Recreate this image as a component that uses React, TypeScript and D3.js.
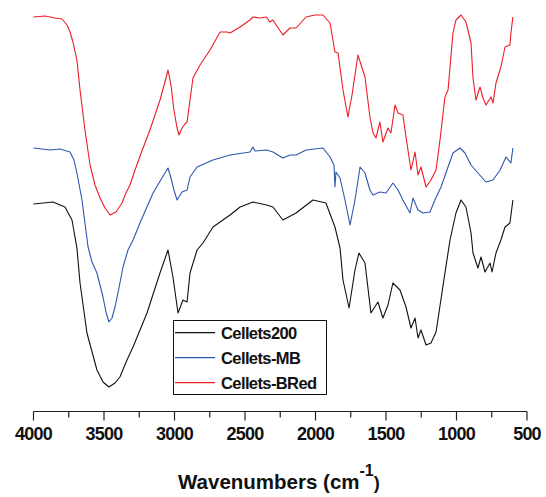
import React from "react";
import * as d3 from "d3";

const W = 546;
const H = 497;

// [wavenumber (cm-1), transmittance (a.u., stacked)]
const cellets200: [number, number][] = [
  [4000, 51.5], [3862, 52], [3777, 50.75], [3727, 47.5], [3692, 40.5], [3670, 31.75], [3621, 19.25],
  [3550, 10], [3507, 7], [3465, 5.75], [3422, 6.75], [3387, 8.25], [3337, 12.5], [3294, 15.75],
  [3195, 24.25], [3103, 34.25], [3046, 40], [3011, 33.25], [2975, 24.25], [2940, 27.5], [2911, 27],
  [2890, 34.25], [2840, 40], [2798, 41.75], [2727, 45.75], [2606, 48.75], [2535, 50.75], [2443, 52],
  [2347, 51.25], [2302, 50.75], [2231, 47.5], [2138, 49.25], [2018, 52.5], [1926, 51.75], [1862, 45.75],
  [1826, 40.5], [1805, 32.5], [1762, 25.5], [1720, 35], [1692, 39.25], [1649, 36.75], [1607, 24.25],
  [1557, 27], [1522, 23], [1486, 26.25], [1451, 31.75], [1401, 30], [1358, 25.75], [1323, 20.5],
  [1294, 23], [1273, 18], [1252, 20], [1216, 16.25], [1181, 16.75], [1145, 19.5], [1082, 34.25],
  [1046, 42.5], [1004, 49.25], [968, 52.5], [933, 50.75], [897, 44.25], [883, 39.25], [848, 35.5],
  [826, 38.25], [798, 34.5], [762, 36.75], [748, 34.5], [720, 39.25], [685, 42.5], [656, 45.75],
  [621, 46.75], [600, 52.5],
];

const celletsMB: [number, number][] = [
  [4000, 65.5], [3883, 65], [3812, 65.25], [3741, 64.5], [3713, 62.5], [3692, 59.25], [3656, 52.5],
  [3613, 40.75], [3585, 37], [3550, 34.25], [3507, 28.25], [3486, 24.5], [3465, 22], [3443, 23],
  [3422, 25.75], [3394, 30.5], [3365, 35.75], [3330, 40], [3294, 42.5], [3245, 46.75], [3152, 54.25],
  [3089, 58], [3046, 60.5], [3025, 58], [3004, 55], [2982, 52.5], [2947, 54.5], [2911, 55],
  [2890, 58.25], [2840, 60.75], [2727, 62.5], [2606, 63.75], [2465, 64.5], [2443, 65.75], [2429, 64.75],
  [2347, 65], [2302, 64.5], [2231, 63], [2181, 63.75], [2138, 63.75], [2067, 65], [1947, 65.5],
  [1897, 63.25], [1869, 61.25], [1862, 55.75], [1855, 59.5], [1826, 58], [1791, 52.5], [1755, 46.25],
  [1720, 52.5], [1684, 60.75], [1649, 59.25], [1614, 55], [1592, 53.75], [1543, 54.5], [1500, 54.25],
  [1451, 56.75], [1415, 55], [1380, 52.5], [1330, 49.25], [1309, 53], [1273, 50], [1238, 49.25],
  [1188, 49.5], [1153, 52.5], [1110, 55.75], [1075, 59.25], [1025, 64.25], [975, 65.5], [940, 64.25],
  [897, 61.25], [848, 59.25], [791, 57], [741, 57.5], [691, 60], [649, 63.25], [614, 61.75], [600, 65.5],
];

const celletsBRed: [number, number][] = [
  [4000, 98.25], [3918, 98.5], [3848, 98], [3798, 97.75], [3762, 96.25], [3741, 94.5], [3720, 92],
  [3692, 87.5], [3670, 80], [3635, 70], [3599, 61.25], [3564, 56.25], [3528, 53], [3493, 50.5],
  [3457, 48.75], [3415, 49.5], [3372, 51.75], [3351, 53.75], [3316, 56.25], [3280, 60], [3223, 65.5],
  [3174, 70], [3103, 77.5], [3060, 83], [3046, 85], [3025, 81.25], [3004, 75], [2982, 70.5],
  [2968, 68.75], [2947, 70.5], [2926, 71.5], [2911, 72], [2890, 77.5], [2869, 83], [2819, 86.25],
  [2748, 90], [2677, 94.5], [2628, 94.5], [2606, 94.25], [2535, 95.75], [2465, 97.5], [2443, 98.25],
  [2396, 98], [2347, 98.25], [2325, 97], [2302, 97.5], [2231, 93.75], [2181, 95.5], [2138, 95.5],
  [2067, 98.25], [2004, 98.75], [1947, 98.75], [1897, 96.75], [1862, 89.5], [1840, 89.25], [1805, 80],
  [1770, 73.25], [1741, 78.75], [1699, 88.75], [1649, 83.25], [1614, 73.25], [1592, 69.25], [1571, 68],
  [1543, 72], [1522, 67], [1486, 70.5], [1465, 69.25], [1436, 76.25], [1415, 74.25], [1380, 73.75],
  [1358, 68.25], [1323, 60], [1294, 64.5], [1273, 58.75], [1252, 60.75], [1216, 55.75], [1181, 57.5],
  [1145, 60], [1117, 67.5], [1082, 78.25], [1060, 80], [1025, 94.25], [1004, 97.5], [968, 98.75],
  [933, 97], [897, 91.75], [883, 83], [862, 77.5], [833, 80.75], [812, 78], [791, 76.25], [755, 78.25],
  [741, 76.75], [720, 81.75], [685, 85.75], [656, 90.75], [621, 91.25], [614, 94.25], [600, 98.25],
];

const seriesNames = ["Cellets200", "Cellets-MB", "Cellets-BRed"];
const seriesColors = ["#111111", "#2f55b0", "#ee1c25"];
const seriesData = [cellets200, celletsMB, celletsBRed];

const majorTicks = [4000, 3500, 3000, 2500, 2000, 1500, 1000, 500];
const minorTicks = [3750, 3250, 2750, 2250, 1750, 1250, 750];

export default function App() {
  const x = d3.scaleLinear().domain([4000, 500]).range([33.5, 527]);
  const y = d3.scaleLinear().domain([0, 100]).range([410, 10]);
  const line = d3
    .line<[number, number]>()
    .x((d) => x(d[0]))
    .y((d) => y(d[1]));

  const axisY = 411.5;
  const font = "'Liberation Sans', Arial, sans-serif";

  return (
    <div style={{ position: "absolute", left: 0, top: 0 }}>
      <svg width={W} height={H} style={{ display: "block", background: "#fff" }}>
        {seriesData.map((d, i) => (
          <path
            key={seriesNames[i]}
            d={line(d) || ""}
            fill="none"
            stroke={seriesColors[i]}
            strokeWidth={1.1}
            strokeLinejoin="round"
          />
        ))}

        {/* axis */}
        <line x1={x(4000)} x2={x(500)} y1={axisY} y2={axisY} stroke="#222" strokeWidth={1.2} />
        {majorTicks.map((t) => (
          <g key={t}>
            <line x1={x(t)} x2={x(t)} y1={axisY} y2={axisY + 9} stroke="#222" strokeWidth={1.2} />
            <text
              x={x(t)}
              y={439.5}
              textAnchor="middle"
              fontFamily={font}
              fontWeight="bold"
              fontSize={18}
              letterSpacing={-0.8}
              fill="#111"
            >
              {t}
            </text>
          </g>
        ))}
        {minorTicks.map((t) => (
          <line key={t} x1={x(t)} x2={x(t)} y1={axisY} y2={axisY + 6} stroke="#222" strokeWidth={1.2} />
        ))}

        {/* axis title */}
        <text x={178} y={489} fontFamily={font} fontWeight="bold" fontSize={20.5} fill="#111">
          Wavenumbers (cm
          <tspan dy={-13} fontSize={16}>-1</tspan>
          <tspan dy={13} fontSize={18}>)</tspan>
        </text>

        {/* legend */}
        <rect x={173.5} y={320.5} width={153} height={74} fill="#fff" stroke="#111" strokeWidth={1} />
        {seriesNames.map((n, i) => {
          const ly = 332.7 + i * 25;
          return (
            <g key={n}>
              <line x1={175} x2={215} y1={ly} y2={ly} stroke={seriesColors[i]} strokeWidth={1.2} />
              <text
                x={221}
                y={ly + 6}
                fontFamily={font}
                fontWeight="bold"
                fontSize={16.5}
                letterSpacing={-0.6}
                fill="#111"
              >
                {n}
              </text>
            </g>
          );
        })}
      </svg>
    </div>
  );
}
